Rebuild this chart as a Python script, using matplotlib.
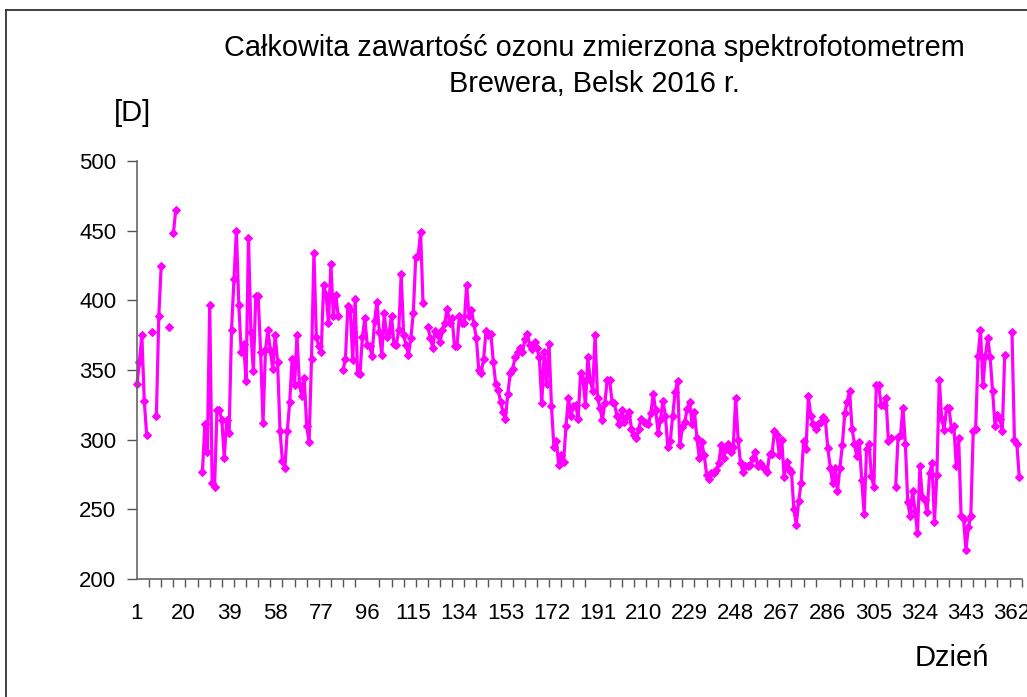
import numpy as np
import matplotlib.pyplot as plt
from matplotlib.lines import Line2D

plt.rcParams['font.family'] = ['Liberation Sans', 'DejaVu Sans']

nan = np.nan

# --- data: total ozone [D], one value per day of 2016 (nan = no measurement) ---
days = np.arange(1, 367)
ozone = [
    340, 356, 375, 328, 303, nan, 377, nan, 317, 389,           # 1-10
    425, nan, nan, 381, nan, 448, 465, nan, nan, nan,           # 11-20
    nan, nan, nan, nan, nan, nan, nan, 277, 311, 291,           # 21-30
    397, 269, 266, 321, 321, 314, 287, 314, 305, 379,           # 31-40
    415, 450, 397, 363, 369, 342, 445, 377, 349, 403,           # 41-50
    403, 363, 312, 364, 379, 364, 351, 375, 356, 306,           # 51-60
    285, 280, 306, 327, 358, 339, 375, 340, 331, 344,           # 61-70
    310, 298, 358, 434, 374, 367, 363, 411, 404, 384,           # 71-80
    426, 389, 404, 389, nan, 350, 358, 396, 393, 357,           # 81-90
    401, 348, 347, 374, 387, 368, 367, 360, 385, 399,           # 91-100
    377, 361, 391, 374, 377, 389, 369, 368, 379, 419,           # 101-110
    375, 368, 361, 373, 391, 431, 432, 449, 398, nan,           # 111-120
    381, 373, 366, 378, 375, 370, 379, 384, 394, 384,           # 121-130
    387, 367, 367, 389, 384, 384, 411, 389, 393, 383,           # 131-140
    373, 350, 348, 358, 378, 375, 376, 356, 340, 336,           # 141-150
    327, 320, 315, 333, 348, 351, 359, 363, 366, 363,           # 151-160
    372, 376, 368, 365, 370, 366, 359, 326, 363, 340,           # 161-170
    369, 324, 295, 299, 282, 289, 284, 310, 330, 317,           # 171-180
    324, 325, 315, 348, 343, 325, 359, 343, 335, 375,           # 181-190
    330, 323, 314, 326, 343, 343, 327, 326, 317, 311,           # 191-200
    321, 313, 317, 320, 308, 303, 301, 308, 315, 313,           # 201-210
    312, 311, 319, 333, 321, 305, 315, 328, 317, 295,           # 211-220
    299, 317, 334, 342, 296, 309, 313, 322, 327, 311,           # 221-230
    320, 301, 287, 298, 289, 275, 272, 276, 276, 278,           # 231-240
    283, 296, 287, 293, 297, 291, 295, 330, 300, 283,           # 241-250
    277, 281, 281, 282, 287, 291, 281, 283, 281, 279,           # 251-260
    277, 290, 290, 306, 303, 289, 300, 273, 284, 279,           # 261-270
    277, 250, 239, 256, 269, 299, 293, 331, 317, 311,           # 271-280
    308, 311, 313, 316, 314, 294, 280, 269, 280, 263,           # 281-290
    280, 296, 319, 327, 335, 308, 297, 288, 298, 271,           # 291-300
    247, 293, 297, 274, 266, 339, 339, 325, 325, 330,           # 301-310
    299, 301, nan, 266, 302, 303, 323, 297, 255, 245,           # 311-320
    263, 249, 233, 281, 259, 257, 248, 276, 283, 241,           # 321-330
    275, 343, 315, 307, 323, 323, 308, 310, 281, 301,           # 331-340
    245, 243, 221, 237, 245, 306, 308, 360, 379, 339,           # 341-350
    360, 373, 359, 335, 310, 318, 315, 306, 361, nan,           # 351-360
    nan, 377, 300, 297, 273, nan,                               # 361-366
]

label_days = list(range(1, 363, 19))
y_ticks = [200, 250, 300, 350, 400, 450, 500]

W, H = 1027, 697
fig = plt.figure(figsize=(W / 100, H / 100), dpi=100)
ax = fig.add_axes([137 / W, 1 - 579 / H, (1021.7 - 137) / W, (579 - 161) / H])

ax.plot(days, ozone, color='#FF00FF', lw=2.3, marker='D', markersize=3.8,
        markeredgewidth=0.8, clip_on=False)

ax.set_xlim(1, 366)
ax.set_ylim(200, 500)

# x: unlabelled tick marks every 5 days, labels every 19 days
ax.set_xticks(label_days)
ax.set_xticklabels([str(d) for d in label_days])
ax.set_xticks(range(1, 367, 5), minor=True)
ax.tick_params(axis='x', which='major', length=0, pad=17, labelsize=16)
ax.tick_params(axis='x', which='minor', length=6, width=1, color='#555555', direction='out')
ax.set_yticks(y_ticks)
ax.tick_params(axis='y', length=7, width=1, color='#555555', pad=8, labelsize=16)

for s in ['top', 'right']:
    ax.spines[s].set_visible(False)
for s in ['left', 'bottom']:
    ax.spines[s].set_color('#666666')
    ax.spines[s].set_linewidth(1.2)

# titles / labels
fig.text(594 / W, 1 - 56 / H, 'Całkowita zawartość ozonu zmierzona spektrofotometrem',
         ha='center', va='baseline', fontsize=20.8)
fig.text(594 / W, 1 - 92 / H, 'Brewera, Belsk 2016 r.',
         ha='center', va='baseline', fontsize=20.8)
fig.text(133 / W, 1 - 121 / H, '[D]', ha='center', va='baseline', fontsize=21)
fig.text(952 / W, 1 - 666 / H, 'Dzień', ha='center', va='baseline', fontsize=21)

# chart frame (only top and left edges are visible)
fig.add_artist(Line2D([5.5 / W, 1], [1 - 9.5 / H, 1 - 9.5 / H], color='#333333', lw=1.3))
fig.add_artist(Line2D([5.5 / W, 5.5 / W], [1 - 9.5 / H, 0], color='#333333', lw=1.3))

fig.savefig('out.png', dpi=100)
